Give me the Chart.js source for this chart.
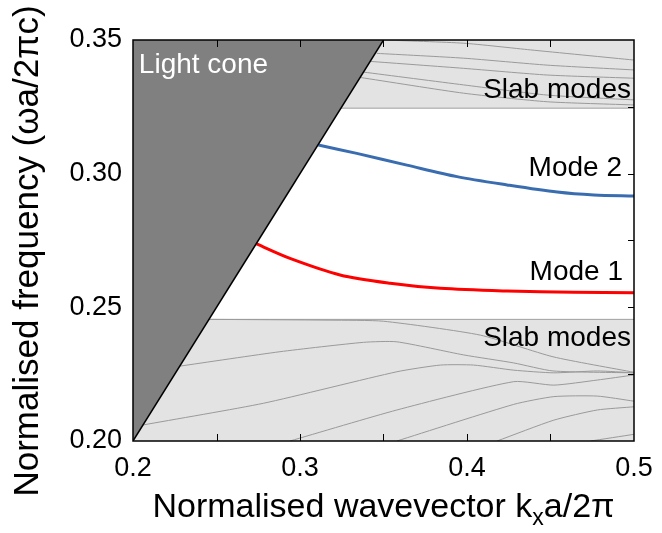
<!DOCTYPE html>
<html>
<head>
<meta charset="utf-8">
<script src="https://cdn.jsdelivr.net/npm/chart.js@4.4.1/dist/chart.umd.min.js"></script>
<style>
  html, body { margin: 0; padding: 0; background: #fff; }
  #wrap { width: 662px; height: 533px; }
</style>
</head>
<body>
<div id="wrap"><canvas id="bandChart" width="662" height="533"></canvas></div>
<script>
// axis ranges
const kRange = [0.2, 0.5];
const fRange = [0.2, 0.35];

// light line  (omega = c k)
const lightConeK = [0.2, 0.35];
const lightConeF = [0.2, 0.35];

// edges of the slab mode continua
const upperBandEdge = 0.3245;
const lowerBandEdge = 0.2455;

// guided modes
const mode1K = [0.274, 0.294, 0.324, 0.354, 0.384, 0.424, 0.464, 0.5];
const mode1F = [0.2737, 0.2683, 0.2621, 0.2590, 0.2571, 0.2561, 0.2556, 0.2555];
const mode2K = [0.311, 0.334, 0.364, 0.394, 0.424, 0.454, 0.476, 0.5];
const mode2F = [0.3107, 0.3076, 0.3032, 0.2989, 0.2958, 0.2931, 0.2920, 0.2916];

// slab modes above the gap
const upperSlabK = [
  [0.35, 0.398, 0.438, 0.5],
  [0.346, 0.398, 0.448, 0.5],
  [0.342, 0.398, 0.448, 0.5],
  [0.338, 0.398, 0.448, 0.5],
  [0.336, 0.398, 0.448, 0.5]
];
const upperSlabF = [
  [0.35, 0.3488, 0.3463, 0.3425],
  [0.345, 0.3432, 0.3406, 0.3388],
  [0.342, 0.3394, 0.3369, 0.3357],
  [0.338, 0.3332, 0.3294, 0.3276],
  [0.336, 0.3301, 0.3269, 0.3257]
];

// slab modes below the gap
const lowerSlabK = [
  [0.2455, 0.318, 0.35, 0.408, 0.4515, 0.5],
  [0.228, 0.288, 0.338, 0.358, 0.398, 0.428, 0.4515, 0.5],
  [0.206, 0.278, 0.358, 0.384, 0.404, 0.428, 0.452, 0.478, 0.5],
  [0.294, 0.358, 0.428, 0.452, 0.478, 0.5],
  [0.358, 0.428, 0.452, 0.478, 0.5],
  [0.418, 0.452, 0.478, 0.5],
  [0.474, 0.5]
];
const lowerSlabF = [
  [0.2455, 0.2452, 0.2448, 0.2396, 0.2315, 0.2257],
  [0.228, 0.2334, 0.2369, 0.2371, 0.2322, 0.2292, 0.2262, 0.2255],
  [0.206, 0.2141, 0.2259, 0.2284, 0.2284, 0.2265, 0.2255, 0.2262, 0.2255],
  [0.2, 0.2116, 0.2222, 0.2209, 0.2228, 0.2247],
  [0.2, 0.2137, 0.2166, 0.2168, 0.2149],
  [0.2, 0.2078, 0.2116, 0.2128],
  [0.2, 0.2025]
];

// text labels (data coordinates)
const notes = [
  { text: 'Light cone', k: 0.2035, f: 0.3377, align: 'left', color: '#ffffff' },
  { text: 'Slab modes', k: 0.4982, f: 0.3283, align: 'right', color: '#000000' },
  { text: 'Mode 2', k: 0.4928, f: 0.2991, align: 'right', color: '#000000' },
  { text: 'Mode 1', k: 0.4934, f: 0.2602, align: 'right', color: '#000000' },
  { text: 'Slab modes', k: 0.4982, f: 0.2355, align: 'right', color: '#000000' }
];

const FONT = '"Liberation Sans", Arial, sans-serif';
const pts = (ks, fs) => ks.map((k, i) => ({ x: k, y: fs[i] }));

const datasets = [];
datasets.push({
  label: 'light cone', data: pts(lightConeK, lightConeF), order: 0,
  borderColor: '#000', borderWidth: 1.5, backgroundColor: '#808080', fill: 'end'
});
datasets.push({
  label: 'mode 2', data: pts(mode2K, mode2F), order: 1,
  borderColor: '#3a6db0', borderWidth: 3, fill: false, tension: 0.3
});
datasets.push({
  label: 'mode 1', data: pts(mode1K, mode1F), order: 1,
  borderColor: '#ff0000', borderWidth: 3, fill: false, tension: 0.3
});
upperSlabK.forEach((ks, i) => datasets.push({
  data: pts(ks, upperSlabF[i]), order: 2, borderColor: '#9a9a9a', borderWidth: 1, fill: false, tension: 0.2
}));
lowerSlabK.forEach((ks, i) => datasets.push({
  data: pts(ks, lowerSlabF[i]), order: 2, borderColor: '#9a9a9a', borderWidth: 1, fill: false, tension: 0.2
}));
datasets.push({
  label: 'upper band', data: pts(kRange, [upperBandEdge, upperBandEdge]), order: 3,
  borderColor: '#a0a0a0', borderWidth: 1, backgroundColor: '#e3e3e3', fill: 'end'
});
datasets.push({
  label: 'lower band', data: pts(kRange, [lowerBandEdge, lowerBandEdge]), order: 3,
  borderColor: '#a0a0a0', borderWidth: 1, backgroundColor: '#e3e3e3', fill: 'start'
});

function onStep(v, step) {
  return Math.abs(Math.round(v / step) * step - v) < 1e-6;
}

// frame, inward ticks, axis titles and text labels
const framePlugin = {
  id: 'frame',
  afterDatasetsDraw(chart) {
    const { ctx, chartArea: a, scales: { x, y } } = chart;
    ctx.save();
    ctx.strokeStyle = '#000';
    ctx.lineWidth = 1;
    ctx.beginPath();
    x.ticks.forEach(t => {
      const px = Math.round(x.getPixelForValue(t.value)) + 0.5;
      if (px <= a.left + 1 || px >= a.right - 1) return;
      ctx.moveTo(px, a.bottom); ctx.lineTo(px, a.bottom - 7);
      ctx.moveTo(px, a.top); ctx.lineTo(px, a.top + 7);
    });
    y.ticks.forEach(t => {
      const py = Math.round(y.getPixelForValue(t.value)) + 0.5;
      if (py <= a.top + 1 || py >= a.bottom - 1) return;
      ctx.moveTo(a.right, py); ctx.lineTo(a.right - 6, py);
    });
    ctx.stroke();
    ctx.lineWidth = 1.5;
    ctx.strokeRect(a.left, a.top, a.right - a.left, a.bottom - a.top);

    ctx.font = '28px ' + FONT;
    ctx.textBaseline = 'alphabetic';
    notes.forEach(n => {
      ctx.fillStyle = n.color;
      ctx.textAlign = n.align;
      ctx.fillText(n.text, x.getPixelForValue(n.k), y.getPixelForValue(n.f));
    });

    // x title with subscript
    ctx.fillStyle = '#000';
    ctx.textAlign = 'left';
    const big = '34px ' + FONT, small = '23px ' + FONT;
    const p1 = 'Normalised wavevector k', sub = 'x', p2 = 'a/2\u03c0';
    ctx.font = big; const w1 = ctx.measureText(p1).width, w3 = ctx.measureText(p2).width;
    ctx.font = small; const w2 = ctx.measureText(sub).width;
    let cx = (a.left + a.right) / 2 - (w1 + w2 + w3) / 2;
    const base = 517;
    ctx.font = big; ctx.fillText(p1, cx, base); cx += w1;
    ctx.font = small; ctx.fillText(sub, cx, base + 8); cx += w2;
    ctx.font = big; ctx.fillText(p2, cx, base);

    // y title
    ctx.translate(28, 251);
    ctx.rotate(-Math.PI / 2);
    ctx.font = '35px ' + FONT;
    ctx.textAlign = 'center';
    ctx.textBaseline = 'middle';
    ctx.fillText('Normalised frequency (\u03c9a/2\u03c0c)', 0, 0);
    ctx.restore();
  }
};

new Chart(document.getElementById('bandChart'), {
  type: 'scatter',
  data: { datasets: datasets },
  options: {
    responsive: false,
    animation: false,
    showLine: true,
    elements: { point: { radius: 0 } },
    layout: { padding: { left: 0, right: 28, top: 40, bottom: 0 } },
    plugins: {
      legend: { display: false },
      tooltip: { enabled: false },
      filler: { drawTime: 'beforeDatasetDraw' }
    },
    scales: {
      x: {
        type: 'linear', min: kRange[0], max: kRange[1],
        grid: { display: false }, border: { display: false },
        afterFit: s => { s.height = 92; },
        ticks: {
          stepSize: 0.05, autoSkip: false, maxRotation: 0, padding: 3,
          color: '#000', font: { family: FONT, size: 27 },
          callback: v => onStep(v, 0.1) ? v.toFixed(1) : ''
        }
      },
      y: {
        type: 'linear', min: fRange[0], max: fRange[1],
        grid: { display: false }, border: { display: false },
        afterFit: s => { s.width = 133; },
        ticks: {
          stepSize: 0.025, autoSkip: false, padding: 3,
          color: '#000', font: { family: FONT, size: 27 },
          callback: v => onStep(v, 0.05) ? v.toFixed(2) : ''
        }
      }
    }
  },
  plugins: [framePlugin]
});
</script>
</body>
</html>
